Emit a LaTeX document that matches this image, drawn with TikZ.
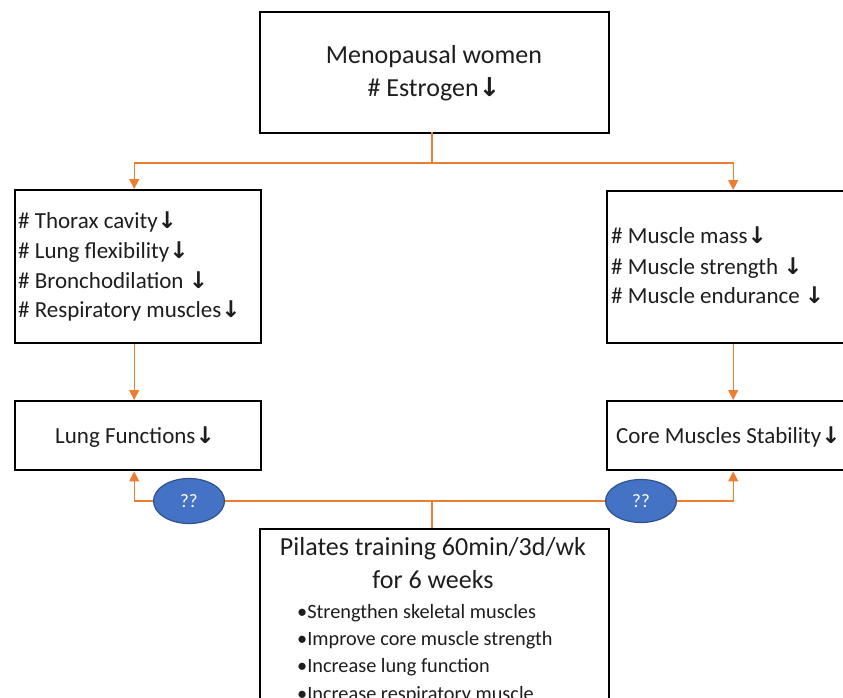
\documentclass[tikz,border=0pt]{standalone}
\usepackage{fontspec}
\setmainfont{Carlito}
\newfontfamily\arrfont{DejaVu Sans}
\usetikzlibrary{arrows.meta,shapes.geometric,calc}
\definecolor{orangeln}{HTML}{ED7D31}
\definecolor{blueel}{HTML}{4472C4}
\definecolor{blueedge}{HTML}{2F528F}
\definecolor{txt}{HTML}{1E1E1E}
\newcommand{\dn}{{\arrfont\bfseries\char"2193}}
\begin{document}
\begin{tikzpicture}[x=1pt,y=-1pt,
  box/.style={draw=black, line width=2.4pt, fill=white, inner sep=0pt, anchor=north west},
  conn/.style={draw=orangeln, line width=1.2pt},
  arr/.style={conn, -{Triangle[length=10pt,width=10pt]}},
  big/.style={font=\fontsize{26}{30}\selectfont, text=txt, inner sep=0pt},
  mid/.style={font=\fontsize{23}{27}\selectfont, text=txt, inner sep=0pt},
  small/.style={font=\fontsize{20.3}{24}\selectfont, text=txt, inner sep=0pt},
  qq/.style={ellipse, draw=blueedge, line width=1.2pt, fill=blueel, text=white,
     font=\fontsize{19}{21}\selectfont, inner sep=0pt}]
\useasboundingbox (0,0) rectangle (843,698);
\clip (0,0) rectangle (843,698);
% boxes
\node[box, minimum width=349pt, minimum height=121pt] (top) at (258.5,11) {};
\node[box, minimum width=246pt, minimum height=153pt] (left1) at (14,189) {};
\node[box, minimum width=252pt, minimum height=152pt] (right1) at (606,190) {};
\node[box, minimum width=246pt, minimum height=69pt] (lung) at (14,400) {};
\node[box, minimum width=252pt, minimum height=69pt] (core) at (606,400) {};
\node[box, minimum width=349pt, minimum height=250pt] (pil) at (258.5,528) {};
% texts
\node[big, anchor=base] (t1) at (434,64) {Menopausal women};
\node[big, anchor=base] (t2) at (434,97) {\# Estrogen\dn};
\node[mid, anchor=base west] (l1) at (18,228) {\# Thorax cavity\dn};
\node[mid, anchor=base west] (l2) at (18,258) {\# Lung flexibility\dn};
\node[mid, anchor=base west] (l3) at (18,288) {\# Bronchodilation \dn};
\node[mid, anchor=base west] (l4) at (18,317) {\# Respiratory muscles\dn};
\node[mid, anchor=base west] (r1) at (611,243) {\# Muscle mass\dn};
\node[mid, anchor=base west] (r2) at (611,274) {\# Muscle strength \dn};
\node[mid, anchor=base west] (r3) at (611,303) {\# Muscle endurance \dn};
\node[mid, anchor=base] (lt) at (135,443) {Lung Functions\dn};
\node[mid, anchor=base west] (ct) at (616,443) {Core Muscles Stability\dn};
\node[big, anchor=base] (p1) at (433,555) {Pilates training 60min/3d/wk};
\node[big, anchor=base] (p2) at (433,588) {for 6 weeks};
\node[small, anchor=base west] (b1) at (297,618) {\textbullet Strengthen skeletal muscles};
\node[small, anchor=base west] (b2) at (297,645) {\textbullet Improve core muscle strength};
\node[small, anchor=base west] (b3) at (297,672) {\textbullet Increase lung function};
\node[small, anchor=base west] (b4) at (297,700) {\textbullet Increase respiratory muscle};
% ellipses
\node[qq, minimum width=71pt, minimum height=45pt] (e1) at (189,501) {??};
\node[qq, minimum width=71pt, minimum height=43pt] (e2) at (641,501) {??};
% connectors
\coordinate (jt) at (432,163);
\coordinate (jb) at (432,501);
\draw[conn] (432,132) -- (jt);
\draw[arr] (jt) -| ([xshift=-4pt]left1.north);
\draw[arr] (jt) -| (right1.north);
\draw[arr] ([xshift=-4pt]left1.south) -- ([xshift=-4pt]lung.north);
\draw[arr] (right1.south) -- (core.north);
\draw[conn] (432,528) -- (jb);
\draw[conn] (jb) -- (e1.east);
\draw[conn] (jb) -- (e2.west);
\draw[arr] (e1.west) -| ([xshift=-4pt]lung.south);
\draw[arr] (e2.east) -| (core.south);
\end{tikzpicture}
\end{document}
